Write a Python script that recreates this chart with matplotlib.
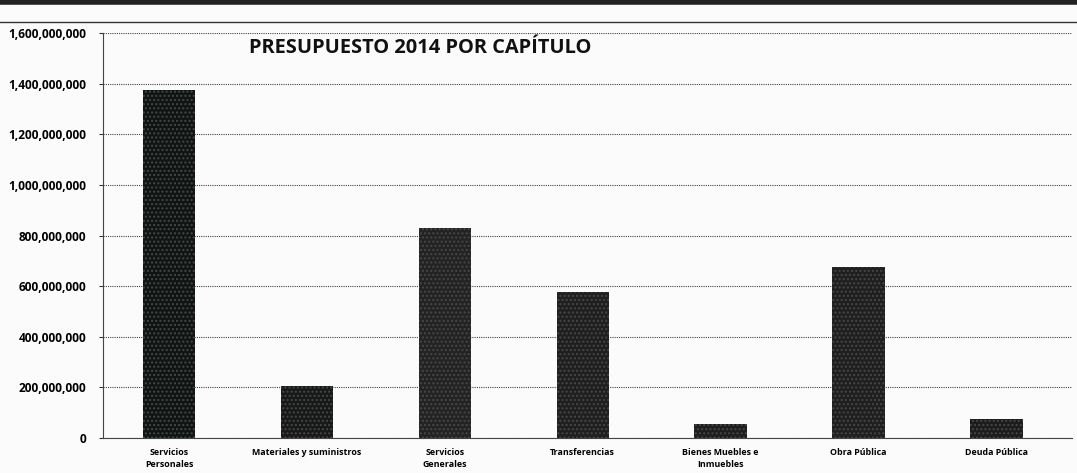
import numpy as np
import matplotlib
matplotlib.use('Agg')
import matplotlib.pyplot as plt
from matplotlib.lines import Line2D
from matplotlib.ticker import FuncFormatter

# Data
categories = ['Servicios\nPersonales', 'Materiales y suministros', 'Servicios\nGenerales',
              'Transferencias', 'Bienes Muebles e\nInmuebles', 'Obra Pública', 'Deuda Pública']
values = [1375000000, 205000000, 830000000, 575000000, 57000000, 675000000, 75000000]
y_ticks = [0, 200000000, 400000000, 600000000, 800000000,
           1000000000, 1200000000, 1400000000, 1600000000]
bar_colors = ['#101412', '#161917', '#232323', '#1f1f1f', '#1e1e1e', '#1f1f1f', '#1c1c1c']
title = 'PRESUPUESTO 2014 POR CAPÍTULO'

FONT = ['Open Sans', 'DejaVu Sans']


def plot_budget():
    fig = plt.figure(figsize=(10.77, 4.73), dpi=100, facecolor='#fbfbfb')
    ax = fig.add_axes([0.0956, 0.074, 0.90, 0.856])
    ax.set_facecolor('none')

    x = np.arange(len(categories))
    ax.bar(x, values, width=0.38, color=bar_colors, hatch='....',
           edgecolor='#474747', linewidth=0, zorder=3)

    ax.set_ylim(0, 1600000000)
    ax.set_xlim(-0.48, 6.55)
    ax.set_yticks(y_ticks)
    ax.yaxis.set_major_formatter(FuncFormatter(lambda v, p: f'{v:,.0f}'))
    ax.set_xticks(x)
    ax.set_xticklabels(categories, fontsize=6.4, fontweight='bold',
                       family=FONT, linespacing=1.4)
    for lab in ax.get_yticklabels():
        lab.set_fontsize(8.6)
        lab.set_fontweight('bold')
        lab.set_family(FONT)

    ax.tick_params(axis='y', length=3, width=0.8, pad=9, color='#333333')
    ax.tick_params(axis='x', length=0, pad=7)

    # dotted gridlines like the scan
    ax.grid(axis='y', linestyle=(0, (1, 1)), color='#444444', linewidth=0.8, zorder=0)
    for side in ['top', 'right']:
        ax.spines[side].set_visible(False)
    for side in ['left', 'bottom']:
        ax.spines[side].set_linestyle((0, (1, 1)))
        ax.spines[side].set_color('#444444')
        ax.spines[side].set_linewidth(0.8)

    fig.text(0.39, 0.898, title, fontsize=14.4, fontweight='bold',
             family=FONT, ha='center', va='center', color='#111111')

    # page border and dark strip from the scan
    fig.add_artist(Line2D([0, 1], [0.953, 0.953], color='#333333', linewidth=1.0))
    fig.add_artist(Line2D([0, 1], [0.995, 0.995], color='#222222', linewidth=4))

    plt.savefig('out.png', dpi=100, facecolor=fig.get_facecolor())


if __name__ == '__main__':
    plot_budget()
